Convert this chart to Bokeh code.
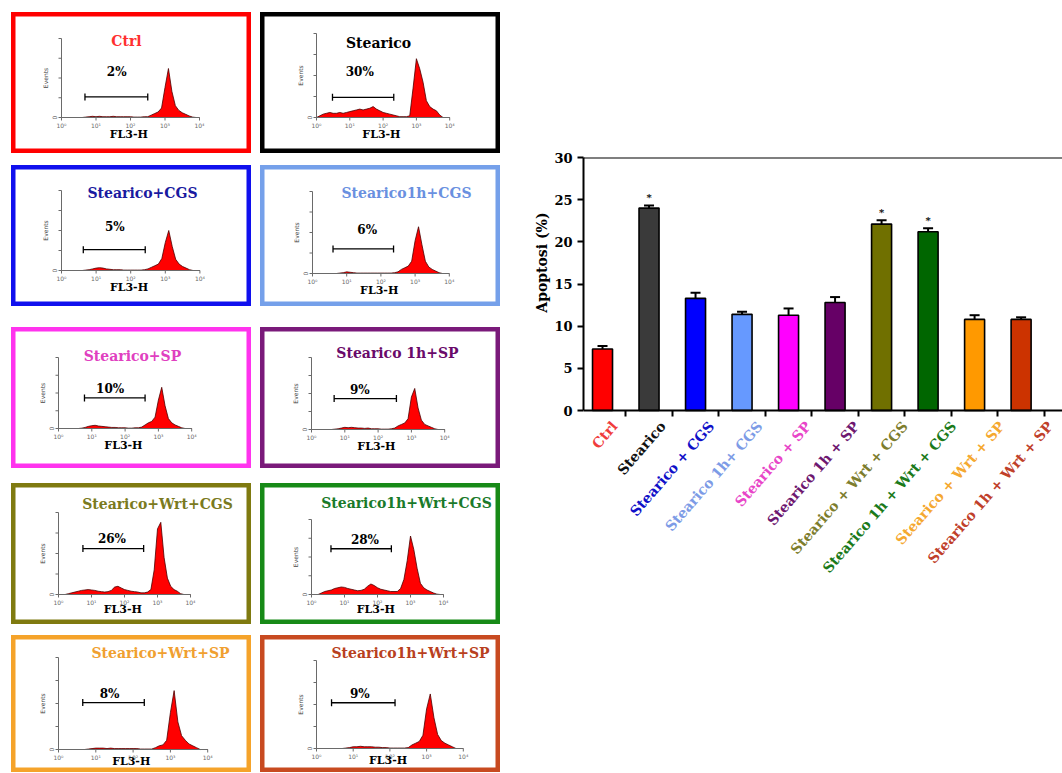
import math
from bokeh.plotting import figure
from bokeh.models import (Range1d, Label, LabelSet, ColumnDataSource, Whisker, TeeHead,
                          FixedTicker, Spacer, Span, Title)
from bokeh.layouts import row, column
from bokeh.embed import file_html
from bokeh.resources import INLINE
from bokeh.core.properties import value

# ---------------- data ----------------
groups = ["Ctrl", "Stearico", "Stearico + CGS", "Stearico 1h+ CGS", "Stearico + SP",
          "Stearico 1h + SP", "Stearico + Wrt + CGS", "Stearico 1h + Wrt + CGS",
          "Stearico + Wrt + SP", "Stearico 1h + Wrt + SP"]
apoptosis_mean = [7.3, 24.0, 13.3, 11.4, 11.3, 12.8, 22.1, 21.2, 10.8, 10.8]
apoptosis_sem = [0.35, 0.3, 0.65, 0.3, 0.8, 0.65, 0.45, 0.4, 0.5, 0.25]
significant = [False, True, False, False, False, False, True, True, False, False]
y_ticks = [0, 5, 10, 15, 20, 25, 30]

panel_titles = ["Ctrl", "Stearico", "Stearico+CGS", "Stearico1h+CGS", "Stearico+SP",
                "Stearico 1h+SP", "Stearico+Wrt+CGS", "Stearico1h+Wrt+CGS",
                "Stearico+Wrt+SP", "Stearico1h+Wrt+SP"]
gate_percent = ["2%", "30%", "5%", "6%", "10%", "9%", "26%", "28%", "8%", "9%"]
gate_low = [0.68, 0.48, 0.63, 0.60, 0.78, 0.68, 0.74, 0.59, 0.65, 0.41]
gate_high = [2.50, 2.32, 2.42, 2.37, 2.60, 2.55, 2.58, 2.42, 2.30, 2.14]

fl3_ticks = [0, 1, 2, 3, 4]
fl3_tick_labels = ["10\u2070", "10\u00b9", "10\u00b2", "10\u00b3", "10\u2074"]
events_ticks = [0, 0.25, 0.5, 0.75, 1.0]

# FL3-H in decades (log10), 0.0 .. 4.0
fl3_decades = [0.0, 0.1, 0.2, 0.3, 0.4, 0.5, 0.6, 0.7, 0.8, 0.9,
               1.0, 1.1, 1.2, 1.3, 1.4, 1.5, 1.6, 1.7, 1.8, 1.9,
               2.0, 2.1, 2.2, 2.3, 2.4, 2.5, 2.6, 2.7, 2.8, 2.9,
               3.0, 3.1, 3.2, 3.3, 3.4, 3.5, 3.6, 3.7, 3.8, 3.9, 4.0]
# events, relative to the y-axis maximum
events_ctrl = [0, 0, 0, 0, 0, 0, 0, 0.005, 0.01, 0.015,
               0.01, 0.015, 0.01, 0.01, 0.01, 0.015, 0.01, 0.01, 0.01, 0.01,
               0.01, 0.005, 0.005, 0.005, 0.01, 0.01, 0.03, 0.05, 0.07, 0.12,
               0.38, 0.62, 0.33, 0.15, 0.09, 0.06, 0.04, 0.02, 0.005, 0, 0]
events_stearico = [0, 0.02, 0.04, 0.05, 0.06, 0.05, 0.05, 0.06, 0.05, 0.06,
                   0.07, 0.08, 0.09, 0.10, 0.09, 0.10, 0.11, 0.13, 0.10, 0.08,
                   0.06, 0.05, 0.04, 0.03, 0.02, 0.01, 0.01, 0.01, 0.02, 0.35,
                   0.70, 0.58, 0.42, 0.20, 0.13, 0.10, 0.08, 0.03, 0, 0, 0]
events_cgs = [0, 0, 0, 0, 0, 0, 0, 0.005, 0.01, 0.02,
              0.03, 0.035, 0.03, 0.02, 0.015, 0.01, 0.01, 0.01, 0.005, 0.005,
              0.005, 0.005, 0.005, 0.005, 0.01, 0.02, 0.04, 0.06, 0.08, 0.15,
              0.35, 0.50, 0.30, 0.14, 0.08, 0.05, 0.03, 0.01, 0, 0, 0]
events_1h_cgs = [0, 0, 0, 0, 0, 0, 0, 0, 0.005, 0.01,
                 0.02, 0.015, 0.01, 0.005, 0.005, 0.005, 0.005, 0.005, 0.005, 0.005,
                 0.005, 0.005, 0.005, 0.005, 0.01, 0.02, 0.05, 0.07, 0.09, 0.15,
                 0.40, 0.57, 0.35, 0.15, 0.08, 0.05, 0.03, 0.01, 0, 0, 0]
events_sp = [0, 0, 0, 0, 0, 0, 0, 0.005, 0.015, 0.03,
             0.04, 0.045, 0.035, 0.03, 0.025, 0.02, 0.015, 0.015, 0.01, 0.01,
             0.01, 0.005, 0.005, 0.01, 0.01, 0.02, 0.05, 0.08, 0.10, 0.16,
             0.40, 0.58, 0.32, 0.14, 0.08, 0.05, 0.03, 0.01, 0, 0, 0]
events_1h_sp = [0, 0, 0, 0, 0, 0, 0, 0.005, 0.01, 0.02,
                0.03, 0.025, 0.03, 0.025, 0.02, 0.02, 0.015, 0.02, 0.01, 0.01,
                0.01, 0.005, 0.005, 0.005, 0.01, 0.02, 0.05, 0.07, 0.09, 0.15,
                0.45, 0.57, 0.30, 0.13, 0.07, 0.05, 0.03, 0.01, 0, 0, 0]
events_wrt_cgs = [0, 0, 0, 0.01, 0.02, 0.03, 0.04, 0.05, 0.055, 0.06,
                  0.055, 0.05, 0.04, 0.035, 0.03, 0.035, 0.05, 0.09, 0.10, 0.08,
                  0.06, 0.05, 0.04, 0.035, 0.03, 0.02, 0.02, 0.03, 0.06, 0.30,
                  0.80, 0.88, 0.45, 0.20, 0.10, 0.06, 0.04, 0.01, 0, 0, 0]
events_1h_wrt_cgs = [0, 0, 0, 0.02, 0.04, 0.05, 0.06, 0.08, 0.09, 0.10,
                     0.095, 0.08, 0.07, 0.06, 0.05, 0.055, 0.07, 0.11, 0.14, 0.12,
                     0.09, 0.07, 0.06, 0.05, 0.04, 0.04, 0.04, 0.08, 0.20, 0.45,
                     0.78, 0.60, 0.35, 0.15, 0.09, 0.06, 0.04, 0.02, 0.005, 0, 0]
events_wrt_sp = [0, 0, 0, 0, 0, 0, 0, 0, 0.005, 0.01,
                 0.015, 0.015, 0.015, 0.01, 0.015, 0.01, 0.01, 0.01, 0.01, 0.01,
                 0.01, 0.01, 0.005, 0.005, 0.005, 0.005, 0.02, 0.04, 0.05, 0.10,
                 0.40, 0.64, 0.30, 0.15, 0.10, 0.06, 0.04, 0.02, 0, 0, 0]
events_1h_wrt_sp = [0, 0, 0, 0, 0, 0, 0, 0, 0.005, 0.01,
                    0.02, 0.02, 0.025, 0.02, 0.02, 0.02, 0.015, 0.015, 0.01, 0.01,
                    0.005, 0.005, 0.005, 0.005, 0.005, 0.01, 0.04, 0.06, 0.08, 0.15,
                    0.45, 0.62, 0.35, 0.16, 0.09, 0.06, 0.04, 0.02, 0, 0, 0]
panel_events = [events_ctrl, events_stearico, events_cgs, events_1h_cgs, events_sp,
                events_1h_sp, events_wrt_cgs, events_1h_wrt_cgs, events_wrt_sp,
                events_1h_wrt_sp]

# ---------------- styles ----------------
SERIF = "DejaVu Serif"
bar_colors = ["#FF0000", "#3A3A3A", "#0000FF", "#6699FF", "#FF00FF", "#660066",
              "#707000", "#006600", "#FF9900", "#CC3300"]
label_colors = ["#F03C3C", "#111111", "#1010C8", "#7D9BE6", "#E845C8", "#6E1870",
                "#7D7D2D", "#1A7A1A", "#F5A830", "#C0402A"]
border_colors = ["#FF0000", "#000000", "#1010EE", "#75A0EA", "#FF33EE", "#7A1A7A",
                 "#7F7A10", "#178A17", "#F5A32A", "#C84A20"]
title_colors = ["#FF3030", "#000000", "#1A1AA0", "#6A90E0", "#E040C0", "#6A0A6A",
                "#7A7A20", "#1A7A2A", "#F0A030", "#B84020"]
# per panel: height, y-axis x (px), px per decade, baseline y (px), axis height (px),
# title centre (px), percent label position (decade, fraction), gate level (fraction),
# FL3-H label offset below baseline (px)
PANEL_LAYOUT = [
    dict(h=141, x0=50, dec=34.5, base=105, axh=79, tx=115, ty=28, px=1.60, py=0.57, gy=0.26, fy=17),
    dict(h=141, x0=56, dec=33.3, base=105, axh=84, tx=118, ty=30, px=1.30, py=0.54, gy=0.24, fy=17),
    dict(h=141, x0=50, dec=34.6, base=105, axh=80, tx=131, ty=27, px=1.54, py=0.54, gy=0.26, fy=17),
    dict(h=141, x0=52, dec=34.2, base=108, axh=82, tx=146, ty=27, px=1.60, py=0.53, gy=0.30, fy=17),
    dict(h=141, x0=47, dec=33.3, base=101, axh=71, tx=121, ty=28, px=1.55, py=0.55, gy=0.43, fy=17),
    dict(h=141, x0=51, dec=33.3, base=102, axh=72, tx=137, ty=25, px=1.45, py=0.55, gy=0.43, fy=17),
    dict(h=141, x0=47, dec=33.0, base=111, axh=82, tx=146, ty=20, px=1.62, py=0.68, gy=0.56, fy=15),
    dict(h=141, x0=51, dec=33.0, base=111, axh=75, tx=146, ty=19, px=1.62, py=0.73, gy=0.61, fy=15),
    dict(h=137, x0=47, dec=37.3, base=114, axh=92, tx=149, ty=17, px=1.37, py=0.60, gy=0.51, fy=12),
    dict(h=137, x0=56, dec=36.7, base=113, axh=88, tx=150, ty=17, px=1.18, py=0.62, gy=0.52, fy=12),
]
PANEL_W = 240
AXIS_GREY = "#6A6A6A"


def make_panel(i):
    st = PANEL_LAYOUT[i]
    W, H = PANEL_W, st["h"]
    x0, dec, base, axh = st["x0"], st["dec"], st["base"], st["axh"]
    p = figure(width=W, height=H,
               x_range=Range1d(-x0 / dec, (W - x0) / dec),
               y_range=Range1d((base - H) / axh, base / axh),
               x_axis_location=None, y_axis_location=None,
               toolbar_location=None, output_backend="svg", min_border=0,
               background_fill_color="white", border_fill_color="white")
    p.grid.visible = False
    p.outline_line_color = border_colors[i]
    p.outline_line_width = 8

    # histogram
    p.varea(x=fl3_decades, y1=[0] * len(fl3_decades), y2=panel_events[i],
            fill_color="#FF0000")
    p.line(x=fl3_decades, y=panel_events[i], line_color="#4A0000", line_width=0.8)

    # mini axes
    tdx, tdy = 3.0 / dec, 3.0 / axh
    p.segment(x0=[fl3_ticks[0]], y0=[0], x1=[fl3_ticks[-1]], y1=[0],
              line_color=AXIS_GREY, line_width=1)
    p.segment(x0=[0], y0=[events_ticks[0]], x1=[0], y1=[events_ticks[-1]],
              line_color=AXIS_GREY, line_width=1)
    p.segment(x0=fl3_ticks, y0=[0] * 5, x1=fl3_ticks, y1=[-tdy] * 5,
              line_color=AXIS_GREY, line_width=1)
    p.segment(x0=[0] * 5, y0=events_ticks, x1=[-tdx] * 5, y1=events_ticks,
              line_color=AXIS_GREY, line_width=1)
    p.text(x=fl3_ticks, y=[-4.0 / axh] * 5, text=fl3_tick_labels,
           text_font=value("DejaVu Sans"), text_font_size="6px",
           text_color=AXIS_GREY, text_align="center", text_baseline="top")
    p.add_layout(Label(x=-7.0 / dec, y=0, text="0", angle=math.pi / 2,
                       text_font="DejaVu Sans", text_font_size="6px",
                       text_color=AXIS_GREY, text_align="center",
                       text_baseline="middle"))
    p.add_layout(Label(x=-16.0 / dec, y=0.5, text="Events", angle=math.pi / 2,
                       text_font="DejaVu Sans", text_font_size="6px",
                       text_color="#444444", text_align="center",
                       text_baseline="middle"))
    p.add_layout(Label(x=1.95, y=-st["fy"] / axh, text="FL3-H",
                       text_font=SERIF, text_font_style="bold",
                       text_font_size="11px", text_color="black",
                       text_align="center", text_baseline="middle"))

    # gate marker
    gsrc = ColumnDataSource(dict(base=[st["gy"]], lower=[gate_low[i]],
                                 upper=[gate_high[i]]))
    p.add_layout(Whisker(source=gsrc, base="base", lower="lower", upper="upper",
                         dimension="width", line_color="black", line_width=1.3,
                         lower_head=TeeHead(size=7, line_width=1.3, line_color="black"),
                         upper_head=TeeHead(size=7, line_width=1.3, line_color="black")))
    p.add_layout(Label(x=st["px"], y=st["py"], text=gate_percent[i],
                       text_font=SERIF, text_font_style="bold",
                       text_font_size="12px", text_color="black",
                       text_align="center", text_baseline="middle"))
    # title
    p.add_layout(Label(x=st["tx"], y=H - st["ty"], x_units="screen", y_units="screen",
                       text=panel_titles[i], text_font=SERIF,
                       text_font_style="bold", text_font_size="14px",
                       text_color=title_colors[i], text_align="center",
                       text_baseline="middle"))
    return p


panels = [make_panel(i) for i in range(10)]

gaps = [12, 12, 21, 15, 11]
col_items = []
for r in range(5):
    col_items.append(Spacer(width=PANEL_W * 2 + 9, height=gaps[r]))
    col_items.append(row(panels[2 * r], Spacer(width=9, height=10), panels[2 * r + 1]))
left = column(*col_items)

# ---------------- bar chart ----------------
xs = list(range(1, len(groups) + 1))
upper = [m + s for m, s in zip(apoptosis_mean, apoptosis_sem)]
src = ColumnDataSource(dict(x=xs, top=apoptosis_mean, upper=upper, color=bar_colors))

# frame spans from the 30 line (y=157) down to y=600 so the rotated labels stay inside
FRAME_TOP, FRAME_BOTTOM, ZERO_Y = 157, 600, 410
units_per_px = (y_ticks[-1] - y_ticks[0]) / (ZERO_Y - FRAME_TOP)
y_start = -(FRAME_BOTTOM - ZERO_Y) * units_per_px
X_START, BAR_PITCH_PX = 0.591, 46.5
LABEL_PITCH_PX, LABEL_OFFSET_PX, LABEL_DROP_PX = 48.4, 12.0, 13.0

bp = figure(width=562, height=772, x_range=Range1d(X_START, 10.89),
            y_range=Range1d(y_start, y_ticks[-1]),
            toolbar_location=None, output_backend="svg",
            min_border_left=83, min_border_right=0, min_border_top=FRAME_TOP,
            min_border_bottom=772 - FRAME_BOTTOM, background_fill_color="white",
            border_fill_color="white")
bp.grid.visible = False
bp.outline_line_color = None
bp.add_layout(Span(location=y_ticks[-1], dimension="width", line_color="black",
                   line_width=2))

bp.vbar(x="x", top="top", width=0.43, fill_color="color", line_color="black",
        line_width=1.6, source=src)
bp.add_layout(Whisker(source=src, base="x", lower="top", upper="upper",
                      line_color="black", line_width=2, lower_head=None,
                      upper_head=TeeHead(size=10, line_width=2, line_color="black")))

star_src = ColumnDataSource(dict(
    x=[x for x, s in zip(xs, significant) if s],
    y=[u + 0.3 for u, s in zip(upper, significant) if s],
    t=["*" for s in significant if s]))
bp.add_layout(LabelSet(source=star_src, x="x", y="y", text="t",
                       text_font=value(SERIF), text_font_size="10px",
                       text_font_style="bold", text_color="black",
                       text_align="center", text_baseline="bottom"))

lab_x = [xs[0] + (LABEL_OFFSET_PX + k * LABEL_PITCH_PX) / BAR_PITCH_PX
         for k in range(len(xs))]
lab_src = ColumnDataSource(dict(x=lab_x, y=[-LABEL_DROP_PX * units_per_px] * len(xs),
                                text=groups, color=label_colors))
bp.add_layout(LabelSet(source=lab_src, x="x", y="y", text="text", text_color="color",
                       angle=0.855, text_align="right", text_baseline="middle",
                       text_font=value(SERIF), text_font_style="bold",
                       text_font_size="14px"))

bp.add_layout(Title(text="Apoptosi (%)", align="right", offset=55,
                    text_font=SERIF, text_font_style="bold", text_font_size="14px",
                    text_color="black", standoff=4), "left")

bp.yaxis.ticker = FixedTicker(ticks=y_ticks)
bp.yaxis.bounds = (y_ticks[0], y_ticks[-1])
bp.yaxis.major_label_text_font = SERIF
bp.yaxis.major_label_text_font_style = "bold"
bp.yaxis.major_label_text_font_size = "13px"
bp.yaxis.major_label_text_color = "black"
for ax in (bp.xaxis[0], bp.yaxis[0]):
    ax.axis_line_width = 2
    ax.axis_line_color = "black"
    ax.major_tick_line_width = 2
    ax.major_tick_line_color = "black"
    ax.major_tick_in = 0
    ax.major_tick_out = 6
    ax.minor_tick_out = 0
    ax.minor_tick_in = 0
mid_ticks = [x + 0.5 for x in xs]
bp.xaxis.ticker = FixedTicker(ticks=mid_ticks)
bp.xaxis.fixed_location = 0
bp.xaxis.major_label_overrides = {t: "" for t in mid_ticks}
bp.xaxis.major_label_text_font_size = "1px"

layout = row(Spacer(width=11, height=10), left, bp)

open("out.html", "w").write(file_html(layout, INLINE))
